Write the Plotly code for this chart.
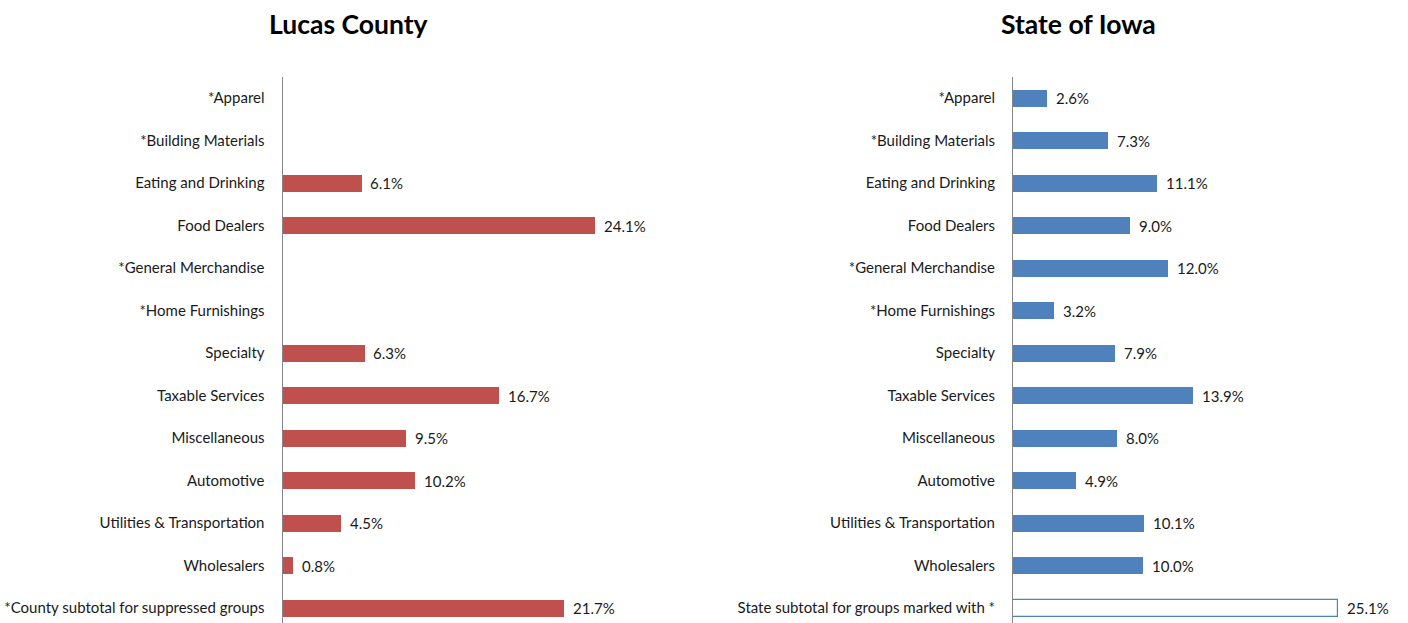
import plotly.graph_objects as go

county_categories = [
    "*Apparel", "*Building Materials", "Eating and Drinking", "Food Dealers",
    "*General Merchandise", "*Home Furnishings", "Specialty", "Taxable Services",
    "Miscellaneous", "Automotive", "Utilities & Transportation", "Wholesalers",
    "*County subtotal for suppressed groups",
]
state_categories = [
    "*Apparel", "*Building Materials", "Eating and Drinking", "Food Dealers",
    "*General Merchandise", "*Home Furnishings", "Specialty", "Taxable Services",
    "Miscellaneous", "Automotive", "Utilities & Transportation", "Wholesalers",
    "State subtotal for groups marked with *",
]
county_values = [None, None, 6.1, 24.1, None, None, 6.3, 16.7, 9.5, 10.2, 4.5, 0.8, 21.7]
state_values = [2.6, 7.3, 11.1, 9.0, 12.0, 3.2, 7.9, 13.9, 8.0, 4.9, 10.1, 10.0, 25.1]

RED = "#C0504D"
BLUE = "#4F81BD"
FONT = "Lato"
TEXT = "#1a1a1a"
LABEL_SIZE = 15

positions = list(range(len(county_categories)))

fig = go.Figure()

fig.add_trace(go.Bar(
    x=county_values, y=positions, orientation="h",
    marker=dict(color=RED, line=dict(width=0)),
    width=0.4, xaxis="x", yaxis="y", hoverinfo="x+y",
))

# the state subtotal bar is drawn as an outline only
state_fill = [BLUE] * (len(state_values) - 1) + ["white"]
state_line = [0] * (len(state_values) - 1) + [1.2]
fig.add_trace(go.Bar(
    x=state_values, y=positions, orientation="h",
    marker=dict(color=state_fill, line=dict(color=BLUE, width=state_line)),
    width=0.4, xaxis="x2", yaxis="y2", hoverinfo="x+y",
))

annotations = []
for xa, ya, vals in (("x", "y", county_values), ("x2", "y2", state_values)):
    for pos, v in zip(positions, vals):
        if v is None:
            continue
        annotations.append(dict(
            x=v, y=pos, xref=xa, yref=ya, text=f"{v:.1f}%",
            showarrow=False, xanchor="left", yanchor="middle", xshift=7,
            font=dict(family=FONT, size=LABEL_SIZE, color=TEXT),
        ))

for cx, title in ((348 / 1408, "Lucas County"), (1078 / 1408, "State of Iowa")):
    annotations.append(dict(
        x=cx, y=1, xref="paper", yref="paper", xanchor="center", yanchor="top",
        yshift=-6, text=f"<b>{title}</b>", showarrow=False,
        font=dict(family=FONT, size=26.5, color="black"),
    ))

y_range = [12.35, -0.494]
x_range = [0, 30]

def yaxis_opts(labels):
    return dict(
        tickmode="array", tickvals=positions, ticktext=labels,
        range=y_range, showline=True, linecolor="#868686", linewidth=1,
        showgrid=False, zeroline=False, ticks="", ticklabelstandoff=14,
        tickfont=dict(family=FONT, size=LABEL_SIZE, color=TEXT),
        domain=[0, 546 / 623],
    )

fig.update_layout(
    width=1408, height=623,
    margin=dict(l=0, r=0, t=0, b=0),
    paper_bgcolor="white", plot_bgcolor="white",
    showlegend=False, bargap=0,
    xaxis=dict(domain=[282.5 / 1408, 671 / 1408], range=x_range, visible=False),
    xaxis2=dict(domain=[1013 / 1408, 1401.5 / 1408], range=x_range, visible=False),
    yaxis=dict(anchor="x", **yaxis_opts(county_categories)),
    yaxis2=dict(anchor="x2", **yaxis_opts(state_categories)),
    annotations=annotations,
)

fig.write_html("out.html")
